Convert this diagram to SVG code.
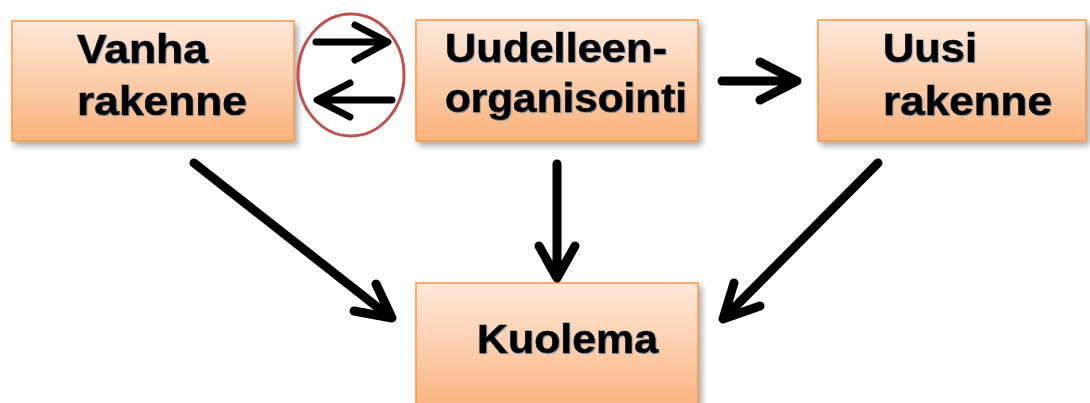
<svg xmlns="http://www.w3.org/2000/svg" width="1090" height="403" viewBox="0 0 1090 403">
<defs>
<linearGradient id="g" x1="0" y1="0" x2="0" y2="1">
<stop offset="0" stop-color="#fde9da"/>
<stop offset="1" stop-color="#fbb27c"/>
</linearGradient>
<filter id="sh" x="-10%" y="-10%" width="130%" height="140%">
<feDropShadow dx="3" dy="4" stdDeviation="3" flood-color="#000" flood-opacity="0.35"/>
</filter>
<filter id="ts" x="-5%" y="-20%" width="110%" height="140%">
<feDropShadow dx="1" dy="1" stdDeviation="0.3" flood-color="#3a78b0" flood-opacity="0.5"/>
</filter>
</defs>
<style>
.box{fill:url(#g);stroke:#f79646;stroke-width:1.5;filter:url(#sh)}
.t{font-family:"Liberation Sans",Arial,sans-serif;font-weight:bold;font-size:40px;fill:#000;stroke:#000;stroke-width:0.6;filter:url(#ts)}
.a{fill:none;stroke:#000;stroke-linecap:round;stroke-linejoin:round}
.w9{stroke-width:9}
.w7{stroke-width:7}
</style>
<rect width="1090" height="403" fill="#fff"/>
<g id="node-vanha">
<rect class="box" x="12" y="21" width="282" height="120"/>
<text class="t" x="77" y="63" textLength="131" lengthAdjust="spacingAndGlyphs">Vanha</text>
<text class="t" x="77" y="115" textLength="170" lengthAdjust="spacingAndGlyphs">rakenne</text>
</g>
<g id="node-uudelleen">
<rect class="box" x="416" y="20" width="282" height="121"/>
<text class="t" x="445" y="62" textLength="222" lengthAdjust="spacingAndGlyphs">Uudelleen-</text>
<text class="t" x="445" y="112" textLength="242" lengthAdjust="spacingAndGlyphs">organisointi</text>
</g>
<g id="node-uusi">
<rect class="box" x="818" y="20" width="268" height="121"/>
<text class="t" x="883" y="62" textLength="94" lengthAdjust="spacingAndGlyphs">Uusi</text>
<text class="t" x="883" y="115" textLength="169" lengthAdjust="spacingAndGlyphs">rakenne</text>
</g>
<g id="node-kuolema">
<rect class="box" x="416" y="283" width="282" height="130"/>
<text class="t" x="477" y="353" textLength="181" lengthAdjust="spacingAndGlyphs">Kuolema</text>
</g>
<g id="connectors">
<ellipse cx="351" cy="75" rx="53" ry="61" fill="none" stroke="#c0504d" stroke-width="3"/>
<path class="a w7" d="M316 42 H387 M355 25 L388 42 L355 60"/>
<path class="a w7" d="M392 100 H318 M350 83 L317 100 L350 117"/>
<path class="a w9" d="M722 81 H796 M760 62 L797 81 L760 100"/>
<path class="a w9" d="M194 163 L390 317 M376 284 L392 318 L354 311"/>
<path class="a w9" d="M557 164 V277 M539 246 L557 278 L575 246"/>
<path class="a w9" d="M878 163 L725 317 M734 283 L723 319 L760 306"/>
</g>
</svg>
